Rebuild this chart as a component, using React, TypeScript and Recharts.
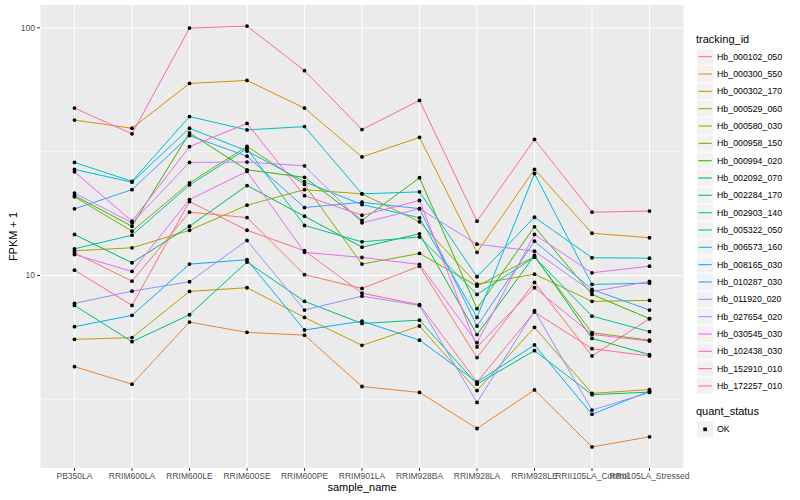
import React from 'react';
import { LineChart, Line, XAxis, YAxis, CartesianGrid } from 'recharts';

const categories = [
  'PB350LA', 'RRIM600LA', 'RRIM600LE', 'RRIM600SE', 'RRIM600PE', 'RRIM901LA',
  'RRIM928BA', 'RRIM928LA', 'RRIM928LE', 'RRII105LA_Control', 'RRII105LA_Stressed',
];

const trackingIds = [
  'Hb_000102_050', 'Hb_000300_550', 'Hb_000302_170', 'Hb_000529_060', 'Hb_000580_030',
  'Hb_000958_150', 'Hb_000994_020', 'Hb_002092_070', 'Hb_002284_170', 'Hb_002903_140',
  'Hb_005322_050', 'Hb_006573_160', 'Hb_008165_030', 'Hb_010287_030', 'Hb_011920_020',
  'Hb_027654_020', 'Hb_030545_030', 'Hb_102438_030', 'Hb_152910_010', 'Hb_172257_010',
];

const palette = [
  '#F8766D', '#EA8331', '#D89000', '#C09B00', '#A3A500', '#7CAE00', '#39B600', '#00BB4E',
  '#00BF7D', '#00C1A3', '#00BFC4', '#00BAE0', '#00B0F6', '#35A2FF', '#9590FF', '#C77CFF',
  '#E76BF3', '#FA62DB', '#FF62BC', '#FF6A98',
];

const yTicks = [10, 100];
const yMinorTicks = [3.1623, 31.623];

const hb_000102_050 = [12.35, 9.48, 18.0, 17.13, 10.07, 8.86, 10.9, 4.66, 9.37, 4.73, 6.69];
const hb_000300_550 = [4.28, 3.64, 6.48, 5.89, 5.74, 3.56, 3.37, 2.41, 3.45, 2.03, 2.23];
const hb_000302_170 = [42.4, 39.3, 59.6, 61.3, 47.4, 30.1, 36.1, 12.4, 26.8, 14.8, 14.2];
const hb_000529_060 = [5.52, 5.61, 8.62, 8.92, 6.77, 5.22, 6.25, 3.43, 6.17, 3.34, 3.46];
const hb_000580_030 = [12.58, 12.93, 15.22, 19.21, 22.2, 21.35, 16.46, 9.22, 10.12, 7.86, 7.93];
const hb_000958_150 = [20.77, 15.09, 23.65, 33.2, 23.3, 11.11, 12.27, 9.05, 11.9, 5.87, 5.48];
const hb_000994_020 = [21.0, 15.8, 37.6, 26.7, 24.9, 16.7, 24.8, 7.34, 15.72, 8.38, 6.69];
const hb_002092_070 = [14.63, 11.25, 15.8, 23.07, 17.34, 13.01, 14.73, 5.77, 12.04, 5.57, 4.79];
const hb_002284_170 = [7.57, 5.4, 6.94, 11.33, 7.86, 6.4, 6.6, 3.64, 4.97, 3.3, 3.38];
const hb_002903_140 = [12.81, 14.54, 23.2, 32.5, 15.91, 13.67, 14.3, 8.38, 11.85, 6.85, 5.93];
const hb_005322_050 = [28.6, 24.0, 43.8, 38.7, 39.9, 21.35, 21.75, 9.88, 17.18, 11.79, 11.74];
const hb_006573_160 = [26.8, 23.8, 39.3, 31.8, 23.9, 19.33, 17.09, 6.77, 25.8, 9.2, 9.31];
const hb_008165_030 = [6.21, 6.9, 11.11, 11.57, 6.02, 6.54, 5.48, 3.71, 5.24, 2.75, 3.41];
const hb_010287_030 = [18.58, 22.2, 36.7, 30.3, 18.8, 19.75, 18.6, 6.25, 13.75, 8.78, 7.25];
const hb_011920_020 = [7.71, 8.64, 9.43, 13.84, 7.25, 8.25, 7.57, 3.07, 7.21, 2.86, 3.37];
const hb_027654_020 = [21.5, 16.31, 28.6, 28.7, 27.7, 16.31, 18.6, 13.37, 12.53, 8.6, 9.46];
const hb_030545_030 = [12.15, 10.38, 20.25, 26.3, 12.4, 11.82, 11.08, 5.35, 14.63, 10.25, 10.9];
const hb_102438_030 = [26.2, 16.56, 33.1, 41.1, 21.0, 17.5, 20.07, 5.14, 8.92, 5.78, 5.43];
const hb_152910_010 = [47.4, 37.3, 99.7, 101.6, 67.1, 38.8, 50.9, 16.56, 35.4, 18.0, 18.2];
const hb_172257_010 = [10.5, 7.57, 19.88, 15.22, 12.58, 8.48, 7.62, 3.71, 7.11, 5.06, 4.73];

const seriesValues = [
  hb_000102_050, hb_000300_550, hb_000302_170, hb_000529_060, hb_000580_030,
  hb_000958_150, hb_000994_020, hb_002092_070, hb_002284_170, hb_002903_140,
  hb_005322_050, hb_006573_160, hb_008165_030, hb_010287_030, hb_011920_020,
  hb_027654_020, hb_030545_030, hb_102438_030, hb_152910_010, hb_172257_010,
];

const data = categories.map((c, i) => {
  const row: Record<string, any> = { sample_name: c };
  trackingIds.forEach((id, k) => {
    row[id] = seriesValues[k][i];
  });
  return row;
});

const FONT = '"Liberation Sans", Arial, Helvetica, sans-serif';

export default function App() {
  const legendTop = 56.7;
  const legendStep = 17.33;
  return (
    <div style={{ position: 'absolute', left: 0, top: 0, width: 800, height: 500, background: '#FFFFFF' }}>
      <LineChart
        width={800}
        height={500}
        data={data}
        margin={{ top: 5, right: 116, bottom: 0, left: 0 }}
      >
        <CartesianGrid
          fill="#EBEBEB"
          stroke="#FFFFFF"
          strokeWidth={0.55}
          vertical={false}
          horizontalValues={yMinorTicks}
        />
        <CartesianGrid
          stroke="#FFFFFF"
          strokeWidth={1.1}
          horizontalValues={yTicks}
        />
        <XAxis
          dataKey="sample_name"
          type="category"
          height={32}
          interval={0}
          padding={{ left: 34.5, right: 34.5 }}
          axisLine={false}
          tickLine={{ stroke: '#333333' }}
          tickSize={3}
          tickMargin={2}
          tick={{ fill: '#4D4D4D', fontSize: 8.5, fontFamily: FONT }}
        />
        <YAxis
          type="number"
          scale="log"
          domain={[1.669, 123.6]}
          allowDataOverflow
          ticks={yTicks}
          width={40}
          axisLine={false}
          tickLine={{ stroke: '#333333' }}
          tickSize={3}
          tickMargin={2}
          tick={{ fill: '#4D4D4D', fontSize: 8.5, fontFamily: FONT }}
        />
        {trackingIds.map((id, k) => (
          <Line
            key={'l' + id}
            type="linear"
            dataKey={id}
            stroke={palette[k]}
            strokeWidth={1}
            dot={false}
            activeDot={false}
            isAnimationActive={false}
          />
        ))}
        {trackingIds.map((id) => (
          <Line
            key={'p' + id}
            type="linear"
            dataKey={id}
            stroke="none"
            dot={{ r: 1.9, fill: '#000000', stroke: 'none' }}
            activeDot={false}
            legendType="none"
            isAnimationActive={false}
          />
        ))}
      </LineChart>
      <svg
        width={800}
        height={500}
        style={{ position: 'absolute', left: 0, top: 0, pointerEvents: 'none' }}
        fontFamily={FONT}
      >
        <text x={362} y={491} textAnchor="middle" fontSize={11} fill="#000000">sample_name</text>
        <text x={17} y={236.5} textAnchor="middle" fontSize={11} fill="#000000" transform="rotate(-90 17 236.5)">FPKM + 1</text>
        <text x={696} y={43} fontSize={11} fill="#000000">tracking_id</text>
        {trackingIds.map((id, k) => {
          const cy = legendTop + k * legendStep;
          return (
            <g key={'lg' + id}>
              <rect x={697} y={cy - 8.1} width={16.2} height={16.2} fill="#F2F2F2" />
              <line x1={698.5} x2={711.7} y1={cy} y2={cy} stroke={palette[k]} strokeWidth={1.1} />
              <text x={717} y={cy + 3.1} fontSize={8.8} fill="#000000">{id}</text>
            </g>
          );
        })}
        <text x={696} y={415} fontSize={11} fill="#000000">quant_status</text>
        <rect x={697} y={429.3 - 8.1} width={16.2} height={16.2} fill="#F2F2F2" />
        <rect x={703.3} y={427.5} width={3.6} height={3.6} fill="#000000" />
        <text x={717} y={432.4} fontSize={8.8} fill="#000000">OK</text>
      </svg>
    </div>
  );
}
